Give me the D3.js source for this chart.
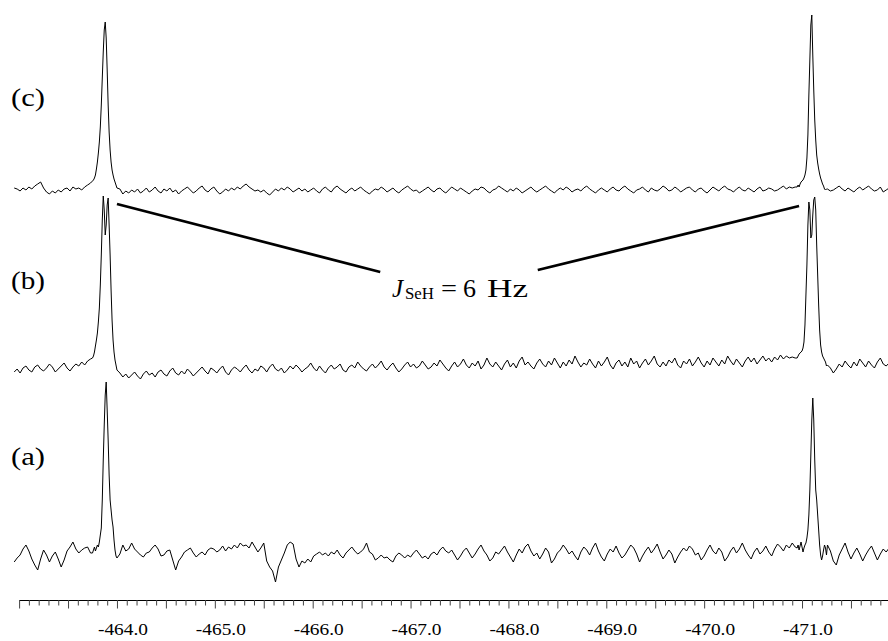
<!DOCTYPE html>
<html>
<head>
<meta charset="utf-8">
<script src="https://cdn.jsdelivr.net/npm/d3@7"></script>
<style>
html,body{margin:0;padding:0;background:#fff;}
svg{display:block;}
text{font-family:"Liberation Serif","Times New Roman",serif;fill:#000;}
</style>
</head>
<body>
<svg id="chart" width="888" height="641"></svg>
<script>
// ---------------- DATA ----------------
// chemical shift grid (ppm) for the baseline samples
const coarseStart = -462.95;
const coarseStep = 0.03;
// fine-resolution windows around the two resonances
const fineStep = 0.01;
const leftWindowStart = -463.75;
const rightWindowStart = -470.95;

const traceNames = ["(c)", "(b)", "(a)"];

// (c) baseline intensities (null = covered by fine window)
const cCoarse = [
  1,0,-2,1,-1,2,0,3,5,7,
  1,-3,-5,-2,-4,-1,-3,0,1,-2,
  2,0,1,-1,2,4,6,null,null,null,
  null,null,null,null,null,null,0,-5,-2,-4,
  -1,-3,0,-4,-2,1,-3,-1,2,-2,
  -4,0,-2,1,-3,-1,-5,-2,0,2,
  -1,-4,-2,1,3,-1,-3,0,2,-2,
  -5,-3,0,-2,1,-1,2,0,3,5,
  2,0,-2,-1,-3,-1,-4,-6,-3,0,
  -2,1,-1,2,0,-3,-1,1,-2,0,
  -3,-1,1,-2,-4,0,2,-1,-3,1,
  3,0,-2,-4,-1,1,-2,0,2,-1,
  -3,-5,-2,0,-1,2,0,-3,-1,1,
  -2,-4,-1,1,3,0,-2,-1,-4,-2,
  0,2,-1,-3,0,1,-2,-4,-1,2,
  0,-2,1,-1,-3,-5,-2,0,-1,2,
  1,-2,-4,-1,0,3,1,-1,-3,0,
  -2,1,-1,-4,-2,0,2,-1,-3,-1,
  1,3,0,-2,-4,-1,1,-1,2,0,
  -3,-1,0,-2,1,3,0,-2,-4,-1,
  1,-1,-3,0,2,-1,-2,1,3,0,
  -2,-4,-1,0,2,-1,-3,1,-1,-2,
  0,3,1,-2,-1,2,0,-3,-1,1,
  2,-1,-3,0,1,-2,-4,-1,2,0,
  -2,1,3,0,-1,-3,0,2,-1,-2,
  1,-1,-3,0,2,-2,-1,1,0,-2,
  -1,1,3,0,2,1,2,null,null,null,
  null,null,null,null,null,null,null,0,-2,-1,
  1,3,0,-2,1,-1,-3,0,2,-1,
  1,3,0,-2,-1,2,-3,-1,1,0
];
const cLeftPeak = [8,9,11,14,20,27,36,47,62,84,111,137,159,167,151,119,84,57,39,27,19,14,10,7,4,1];
const cRightPeak = [2,4,2,5,7,8,9,11,14,19,31,54,94,129,164,174,134,99,69,49,34,26,20,15,11,8,5,3,0,-1,0];

// (b) baseline intensities
const bCoarse = [
  -2,1,-3,2,4,0,-2,3,5,1,
  -1,2,6,3,-2,1,4,7,2,-1,
  3,6,4,8,5,9,11,null,null,null,
  null,null,null,null,null,null,-3,-7,-4,-8,
  -5,-2,-6,-9,-4,-1,-5,-3,-7,-2,
  0,-4,-6,-1,2,-3,-5,-1,-4,1,
  -2,-6,-3,0,3,-1,-4,2,0,-3,
  1,4,-2,-5,0,3,1,-2,2,5,
  0,-3,1,-1,4,2,-2,3,6,1,
  -1,2,-3,0,4,1,5,2,-2,1,
  3,7,2,-1,4,0,-3,2,5,1,
  3,6,0,-2,3,5,2,8,4,1,
  -1,3,6,2,5,9,3,0,4,7,
  2,-2,1,5,8,3,6,2,4,9,
  5,1,3,7,4,10,6,2,-1,4,
  8,3,6,11,5,2,7,4,9,1,
  5,12,6,3,8,4,0,6,10,3,
  7,2,9,13,5,8,4,1,7,11,
  6,3,9,5,12,7,2,8,4,10,
  6,14,8,3,7,5,11,6,2,9,
  4,8,13,5,1,7,10,4,8,3,
  12,6,9,2,7,11,5,9,14,6,
  3,8,4,10,7,12,5,2,9,6,
  11,4,8,13,7,3,9,5,12,8,
  4,10,6,14,9,5,11,7,3,9,
  13,8,12,6,10,14,9,12,8,13,
  10,15,11,14,12,13,12,null,null,null,
  null,null,null,null,null,null,null,5,2,-3,
  1,6,3,9,5,2,8,4,11,7,
  3,9,5,2,8,12,6,4,7,5
];
const bLeftPeak = [12,14,18,24,30,37,48,62,85,115,150,174,160,135,145,165,172,145,115,80,50,30,18,10,5,0];
const bRightPeak = [12,14,16,17,18,19,22,28,45,75,105,145,168,160,132,135,155,170,173,160,125,95,65,40,25,18,14,12,10,8,4];

// (a) baseline intensities
const aCoarse = [
  -5,-1,2,8,12,6,-2,-8,-13,-2,
  7,2,-5,1,5,-2,-10,-3,6,10,
  15,8,4,7,9,10,4,null,null,null,
  null,null,null,null,null,null,3,12,6,8,
  14,8,5,2,0,4,5,9,12,8,
  1,2,6,7,-3,-13,-4,0,5,7,
  9,4,0,3,5,2,7,9,8,5,
  7,11,6,10,8,12,9,14,11,12,
  9,15,10,5,9,14,-4,-10,-14,-25,
  -10,-3,4,12,15,13,-2,-10,-4,-6,
  -2,-5,1,3,5,2,4,1,5,3,
  7,2,-1,4,7,10,6,3,5,8,
  14,5,3,-3,-1,2,-1,0,-3,-5,
  1,4,2,-1,2,0,4,7,3,-1,
  1,-2,3,5,2,7,10,6,4,7,
  2,-3,1,6,9,4,-1,3,8,12,
  6,2,-4,-1,5,3,7,11,5,0,
  -5,2,8,4,10,13,6,1,4,-2,
  3,9,5,-6,-2,4,7,12,8,3,
  6,1,-3,5,10,7,2,9,14,6,
  0,-4,3,8,5,11,4,-1,2,7,
  12,9,3,-5,1,6,10,4,8,13,
  5,-2,2,7,3,-6,0,5,9,6,
  11,8,2,4,-3,1,7,12,6,3,
  9,5,-4,0,6,10,4,8,14,7,
  2,-2,5,9,3,6,11,5,1,8,
  13,10,6,12,9,14,10,null,null,null,
  null,null,null,null,null,null,null,12,6,-4,
  -8,2,8,14,5,-2,4,9,3,-4,
  2,7,11,4,-3,3,8,5,9,6
];
const aLeftPeak = [4,7,10,6,9,12,10,15,22,29,57,97,132,162,175,147,117,82,57,47,37,30,17,7,1,-1];
const aRightPeak = [9,12,7,11,15,10,5,9,12,14,19,27,42,67,102,137,159,137,97,67,57,42,27,12,2,-3,1,7,12,9,2];

// axis ticks (ppm)
const minorTicks = d3.range(0, 89).map(k => +(-463 - k * 0.1).toFixed(1));
const tickLabels = [-464, -465, -466, -467, -468, -469, -470, -471];

// coupling constant annotation text
const couplingLabel = { main: "J", sub: "SeH", rest: ["=", "6", "Hz"] };

// ---------------- BUILD ----------------
function buildTrace(coarse, left, right) {
  const pts = [];
  coarse.forEach((v, i) => { if (v !== null) pts.push([coarseStart - i * coarseStep, v]); });
  left.forEach((v, j) => pts.push([leftWindowStart - j * fineStep, v]));
  right.forEach((v, j) => pts.push([rightWindowStart - j * fineStep, v]));
  pts.sort((p, q) => q[0] - p[0]);
  return pts;
}
const traces = [
  buildTrace(cCoarse, cLeftPeak, cRightPeak),
  buildTrace(bCoarse, bLeftPeak, bRightPeak),
  buildTrace(aCoarse, aLeftPeak, aRightPeak)
];

// layout
const W = 888, H = 641;
const baselines = [189, 370, 557];
const axisY = 600;

const svg = d3.select("#chart");
svg.append("rect").attr("width", W).attr("height", H).attr("fill", "#fff");

const x = d3.scaleLinear().domain([-463.0, -471.9]).range([19.1, 890.1]);
const y = d3.scaleLinear().domain([0, 100]).range([0, -100]);

const line = d3.line().x(d => x(d[0])).y(d => y(d[1]));

traces.forEach((t, k) => {
  svg.append("path")
    .attr("transform", `translate(0,${baselines[k]})`)
    .attr("d", line(t))
    .attr("fill", "none")
    .attr("stroke", "#000")
    .attr("stroke-width", 1)
    .attr("stroke-linejoin", "round");
});

// trace labels
const labelBase = [106, 289, 465];
traceNames.forEach((n, k) => {
  svg.append("text")
    .attr("x", 11).attr("y", labelBase[k])
    .attr("font-size", 25)
    .attr("textLength", 34).attr("lengthAdjust", "spacingAndGlyphs")
    .text(n);
});

// axis
const axis = d3.axisBottom(x)
  .tickValues(minorTicks)
  .tickSize(5)
  .tickSizeOuter(0)
  .tickFormat("");
const gAxis = svg.append("g").attr("transform", `translate(0,${axisY})`).call(axis);
gAxis.select(".domain").attr("stroke", "#000").attr("stroke-width", 1.1);
gAxis.selectAll(".tick line")
  .attr("stroke", "#444")
  .attr("stroke-width", 1)
  .attr("y2", (d, i) => (i % 5 === 0 ? 8.5 : 5.5));

svg.append("g").selectAll("text")
  .data(tickLabels)
  .join("text")
  .attr("x", d => x(d) + 6)
  .attr("y", 635)
  .attr("text-anchor", "middle")
  .attr("font-size", 17.5)
  .attr("textLength", 50).attr("lengthAdjust", "spacingAndGlyphs")
  .text(d => d.toFixed(1));

// coupling annotation (positions in trace (b) coordinates)
const bBase = baselines[1];
const annoLines = [
  [[-464.0, 166], [-466.69, 98]],
  [[-470.97, 164], [-468.30, 100]]
];
annoLines.forEach(seg => {
  svg.append("line")
    .attr("x1", x(seg[0][0])).attr("y1", bBase + y(seg[0][1]))
    .attr("x2", x(seg[1][0])).attr("y2", bBase + y(seg[1][1]))
    .attr("stroke", "#000").attr("stroke-width", 2.8);
});

const labelY = 297;
svg.append("text").attr("x", 392).attr("y", labelY)
  .attr("font-size", 25).attr("font-style", "italic").text(couplingLabel.main);
svg.append("text").attr("x", 405).attr("y", labelY + 2)
  .attr("font-size", 16.5).attr("textLength", 29).attr("lengthAdjust", "spacingAndGlyphs")
  .text(couplingLabel.sub);
svg.append("text").attr("x", 441).attr("y", labelY)
  .attr("font-size", 25).attr("textLength", 16).attr("lengthAdjust", "spacingAndGlyphs")
  .text(couplingLabel.rest[0]);
svg.append("text").attr("x", 463).attr("y", labelY)
  .attr("font-size", 25).attr("textLength", 13).attr("lengthAdjust", "spacingAndGlyphs")
  .text(couplingLabel.rest[1]);
svg.append("text").attr("x", 487).attr("y", labelY)
  .attr("font-size", 25).attr("textLength", 41).attr("lengthAdjust", "spacingAndGlyphs")
  .text(couplingLabel.rest[2]);
</script>
</body>
</html>
